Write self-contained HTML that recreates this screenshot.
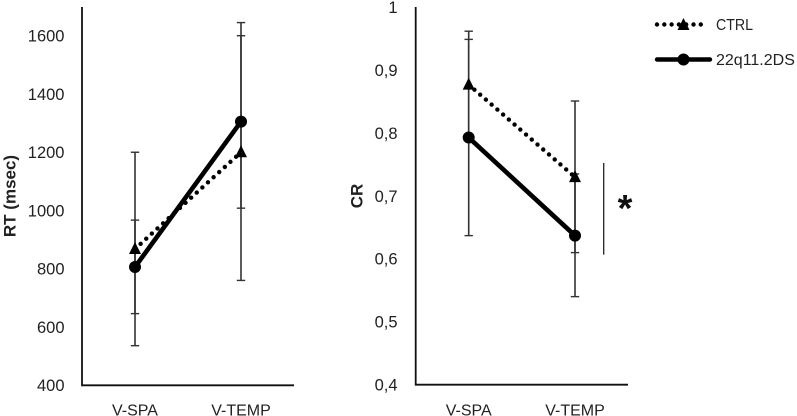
<!DOCTYPE html>
<html lang="en">
<head>
<meta charset="utf-8">
<title>RT and CR by condition</title>
<style>
html,body{margin:0;padding:0;background:#fff;width:797px;height:416px;overflow:hidden}
svg{display:block;filter:blur(0.3px)}
text{font-family:"Liberation Sans",sans-serif;fill:#222}
</style>
</head>
<body>
<svg id="figure" width="797" height="416" viewBox="0 0 797 416" xmlns="http://www.w3.org/2000/svg">
  <rect x="0" y="0" width="797" height="416" fill="#fff"/>
  <g id="rt-chart"></g>
  <g id="cr-chart"></g>
  <line x1="603.7" y1="163" x2="603.7" y2="254.6" stroke="#222" stroke-width="1.3"/>
  <text x="625" y="221" font-size="38" font-weight="bold" text-anchor="middle" style="fill:#111">*</text>
  <g>
    <g>
      <line x1="657" y1="24.5" x2="708" y2="24.5" stroke="#000" stroke-width="4.4" stroke-linecap="round" stroke-dasharray="0 7.3"/>
      <polygon points="683.5,18 677.5,30 689.5,30" fill="#000"/>
      <text x="716" y="29.8" font-size="16" textLength="37" lengthAdjust="spacingAndGlyphs">CTRL</text>
    </g>
    <g>
      <line x1="657" y1="59.5" x2="710" y2="59.5" stroke="#000" stroke-width="4.4" stroke-linecap="round"/>
      <circle cx="683.5" cy="59.5" r="6" fill="#000"/>
      <text x="716" y="64.8" font-size="16">22q11.2DS</text>
    </g>
  </g>
</svg>
<script>
// Shared categories
const categories = ['V-SPA', 'V-TEMP'];

// RT chart data
const rtTicks = [400, 600, 800, 1000, 1200, 1400, 1600];
const rtCtrl = [868, 1200];
const rtCtrlErrLow = [536, 760];
const rtCtrlErrHigh = [1200, 1645];
const rtPatient = [806, 1305];
const rtPatientErrLow = [646, 1008];
const rtPatientErrHigh = [967, 1600];

// CR chart data
const crTicks = [0.4, 0.5, 0.6, 0.7, 0.8, 0.9, 1];
const crCtrl = [0.877, 0.73];
const crCtrlErrLow = [0.792, 0.61];
const crCtrlErrHigh = [0.962, 0.851];
const crPatient = [0.793, 0.637];
const crPatientErrLow = [0.637, 0.54];
const crPatientErrHigh = [0.949, 0.735];

const NS = 'http://www.w3.org/2000/svg';

function make(parent, tag, attrs) {
  const node = document.createElementNS(NS, tag);
  Object.keys(attrs).forEach(function (k) { node.setAttribute(k, attrs[k]); });
  parent.appendChild(node);
  return node;
}

function drawChart(cfg) {
  const root = document.getElementById(cfg.id);
  const y = function (v) {
    return cfg.yBottom - (v - cfg.yMin) / (cfg.yMax - cfg.yMin) * (cfg.yBottom - cfg.yTop);
  };
  const x = function (i) { return cfg.x0 + i * cfg.xStep; };

  // axes
  const yAxis = make(root, 'line', { x1: cfg.axisX, y1: cfg.axisTop, x2: cfg.axisX, y2: cfg.yBottom + 0.9, stroke: '#111', 'stroke-width': 1.8 });
  
  
  const xAxis = make(root, 'line', { x1: cfg.axisX, y1: cfg.yBottom, x2: cfg.axisRight, y2: cfg.yBottom, stroke: '#111', 'stroke-width': 1.8 });
  
  

  // tick labels
  cfg.ticks.forEach(function (t) {
    const label = make(root, 'text', { x: cfg.labelX, y: y(t) + 5.8, 'font-size': 16.5, 'text-anchor': 'end' });
    
    
    label.textContent = cfg.format(t);
  });
  categories.forEach(function (c, i) {
    const label = make(root, 'text', { x: x(i) + cfg.catShift, y: 415.5, 'font-size': 16, 'text-anchor': 'middle' });
    
    
    label.textContent = c;
  });

  // axis title
  const title = make(root, 'text', { transform: 'translate(' + cfg.titleX + ',196) rotate(-90)', 'font-size': 17, 'font-weight': 'bold', 'text-anchor': 'middle' });
  
  
  title.textContent = cfg.title;

  // error bars
  [[cfg.ctrlLow, cfg.ctrlHigh], [cfg.patLow, cfg.patHigh]].forEach(function (pair) {
    categories.forEach(function (c, i) {
      const stem = make(root, 'line', { x1: x(i), y1: y(pair[0][i]), x2: x(i), y2: y(pair[1][i]), stroke: '#333', 'stroke-width': 1.6 });
      
      
      [pair[0][i], pair[1][i]].forEach(function (v) {
        const cap = make(root, 'line', { x1: x(i) - 4.2, y1: y(v), x2: x(i) + 4.2, y2: y(v), stroke: '#333', 'stroke-width': 1.4 });
        
        
      });
    });
  });

  // CTRL series
  const ctrlPoints = cfg.ctrl.map(function (v, i) { return x(i) + ',' + y(v); }).join(' ');
  const ctrlLine = make(root, 'polyline', { points: ctrlPoints, fill: 'none', stroke: '#000', 'stroke-width': 4.4, 'stroke-linecap': 'round', 'stroke-dasharray': '0 7.6' });
  
  
  cfg.ctrl.forEach(function (v, i) {
    const px = x(i);
    const py = y(v);
    const marker = make(root, 'polygon', { points: px + ',' + (py - 7) + ' ' + (px - 6) + ',' + (py + 5) + ' ' + (px + 6) + ',' + (py + 5), fill: '#000' });
    
    
  });

  // 22q11.2DS series
  const patPoints = cfg.pat.map(function (v, i) { return x(i) + ',' + y(v); }).join(' ');
  const patLine = make(root, 'polyline', { points: patPoints, fill: 'none', stroke: '#000', 'stroke-width': 4.6 });
  
  
  cfg.pat.forEach(function (v, i) {
    const marker = make(root, 'circle', { cx: x(i), cy: y(v), r: 6, fill: '#000' });
    
    
  });
}

drawChart({
  id: 'rt-chart', title: 'RT (msec)', titleX: 15.5,
  ticks: rtTicks, format: function (t) { return String(t); },
  yMin: 400, yMax: 1600, yBottom: 385.3, yTop: 35.7,
  axisX: 82, axisTop: 7, axisRight: 294, labelX: 64.5,
  x0: 135, xStep: 106, catShift: 0,
  ctrl: rtCtrl, ctrlLow: rtCtrlErrLow, ctrlHigh: rtCtrlErrHigh,
  pat: rtPatient, patLow: rtPatientErrLow, patHigh: rtPatientErrHigh
});

drawChart({
  id: 'cr-chart', title: 'CR', titleX: 362.5,
  ticks: crTicks, format: function (t) { return String(t).replace('.', ','); },
  yMin: 0.4, yMax: 1, yBottom: 384.7, yTop: 7.3,
  axisX: 415.7, axisTop: 7, axisRight: 628, labelX: 397.5,
  x0: 468.7, xStep: 106.3, catShift: 0,
  ctrl: crCtrl, ctrlLow: crCtrlErrLow, ctrlHigh: crCtrlErrHigh,
  pat: crPatient, patLow: crPatientErrLow, patHigh: crPatientErrHigh
});
</script>
</body>
</html>
